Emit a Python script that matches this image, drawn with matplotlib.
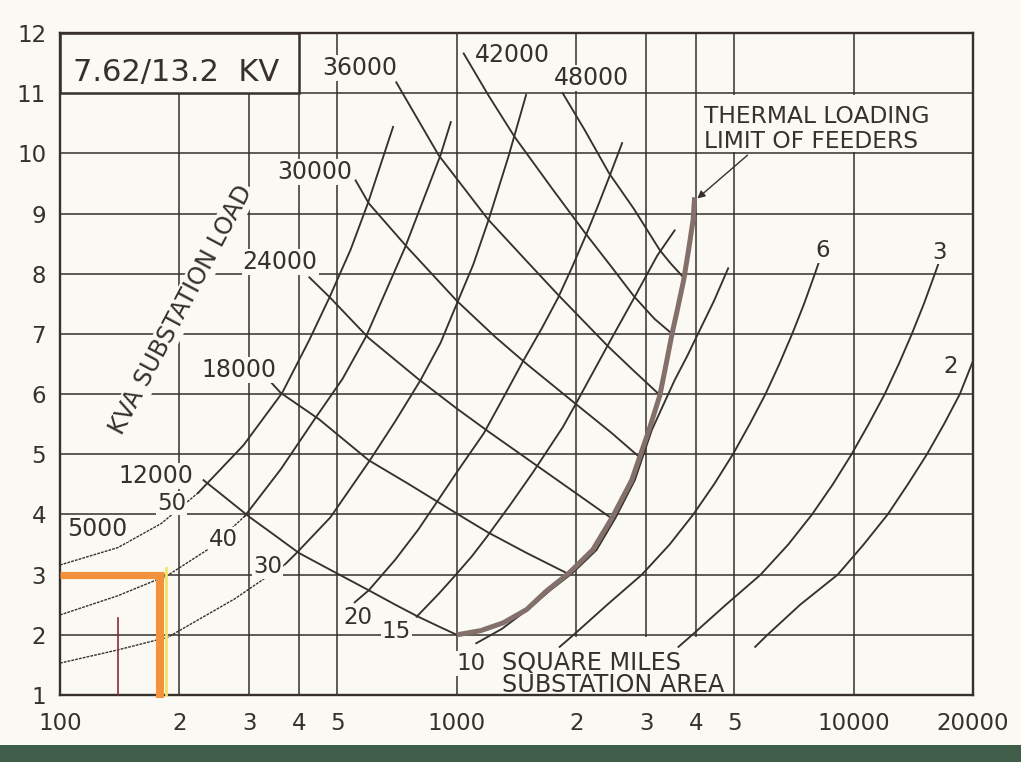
import matplotlib
matplotlib.use('Agg')
import matplotlib.pyplot as plt
from matplotlib.patches import Rectangle
from matplotlib.ticker import NullLocator

# ---------------- data ----------------
x_ticks = [100, 200, 300, 400, 500, 1000, 2000, 3000, 4000, 5000, 10000, 20000]
x_tick_labels = ['100', '2', '3', '4', '5', '1000', '2', '3', '4', '5', '10000', '20000']
y_ticks = [1, 2, 3, 4, 5, 6, 7, 8, 9, 10, 11, 12]

# substation area curves (square miles)
a50_thin_x = [100, 140, 180, 223]
a50_thin_y = [3.16, 3.45, 3.85, 4.36]
a50_x = [223, 290, 363, 425, 478, 540, 597, 691]
a50_y = [4.36, 5.15, 6.02, 6.90, 7.61, 8.40, 9.17, 10.44]

a40_thin_x = [100, 140, 187, 240, 292]
a40_thin_y = [2.33, 2.65, 2.99, 3.45, 3.97]
a40_x = [292, 360, 440, 515, 590, 741, 910, 966]
a40_y = [3.97, 4.75, 5.60, 6.25, 6.95, 8.44, 9.97, 10.52]

a30_thin_x = [100, 140, 187, 276, 369]
a30_thin_y = [1.53, 1.75, 1.96, 2.60, 3.17]
a30_x = [369, 396, 480, 604, 700, 810, 910, 1000, 1100, 1202, 1350, 1495]
a30_y = [3.17, 3.37, 3.95, 4.90, 5.55, 6.23, 6.85, 7.50, 8.15, 8.89, 9.95, 10.97]

a20_x = [553, 600, 700, 800, 900, 1000, 1170, 1300, 1470, 1640, 1800, 1950, 2110, 2260, 2420, 2610]
a20_y = [2.54, 2.74, 3.25, 3.75, 4.25, 4.70, 5.35, 5.90, 6.55, 7.10, 7.60, 8.10, 8.62, 9.10, 9.60, 10.17]

a15_x = [792, 900, 983, 1090, 1188, 1370, 1556, 1850, 2000, 2200, 2420, 2800, 3200, 3540]
a15_y = [2.30, 2.68, 2.96, 3.30, 3.62, 4.18, 4.70, 5.45, 5.85, 6.35, 6.85, 7.60, 8.30, 8.72]

a10_x = [1120, 1300, 1530, 1720, 1960, 2250, 2510, 2810, 3100, 3320, 3540, 3800, 4060, 4450, 4830]
a10_y = [1.86, 2.10, 2.45, 2.74, 3.03, 3.41, 3.94, 4.57, 5.40, 5.83, 6.23, 6.62, 7.01, 7.55, 8.09]

a6_x = [1817, 1970, 2394, 2927, 3438, 3945, 4450, 4965, 5472, 5999, 6501, 7005, 7505, 7990, 8176]
a6_y = [1.80, 2.00, 2.50, 3.00, 3.50, 4.00, 4.50, 5.00, 5.50, 6.00, 6.50, 7.00, 7.50, 8.00, 8.19]

a3_x = [3620, 3922, 4768, 5831, 6844, 7858, 8864, 9885, 10910, 11980, 13000, 14020, 15040, 16030, 16410]
a3_y = [1.80, 2.00, 2.50, 3.00, 3.50, 4.00, 4.50, 5.00, 5.50, 6.00, 6.50, 7.00, 7.50, 8.00, 8.19]

a2_x = [5650, 6067, 7334, 9122, 10600, 12190, 13700, 15310, 16900, 18530, 20000]
a2_y = [1.80, 2.00, 2.50, 3.00, 3.50, 4.00, 4.50, 5.00, 5.50, 6.00, 6.55]

# KVA substation load curves
k12000_x = [230, 260, 300, 350, 400, 480, 600, 700, 800, 900, 1000]
k12000_y = [4.57, 4.29, 3.96, 3.64, 3.36, 3.08, 2.74, 2.50, 2.30, 2.14, 2.00]

k18000_x = [342, 360, 450, 600, 750, 900, 1050, 1200, 1500, 1900]
k18000_y = [6.18, 6.02, 5.58, 4.90, 4.52, 4.20, 3.93, 3.70, 3.36, 3.02]

k24000_x = [425, 480, 600, 800, 1000, 1200, 1600, 2000, 2450]
k24000_y = [7.94, 7.60, 6.93, 6.25, 5.76, 5.38, 4.80, 4.35, 3.94]

k30000_x = [556, 600, 750, 1000, 1250, 1500, 2000, 2450, 2890]
k30000_y = [9.55, 9.17, 8.44, 7.55, 6.95, 6.50, 5.83, 5.36, 4.95]

k36000_x = [704, 900, 1200, 1500, 1800, 2400, 2800, 3230]
k36000_y = [11.18, 9.97, 8.90, 8.21, 7.65, 6.80, 6.38, 6.00]

k42000_x = [1041, 1200, 1400, 1750, 2110, 2450, 2800, 3150, 3490]
k42000_y = [11.66, 10.97, 10.27, 9.39, 8.67, 8.12, 7.62, 7.25, 7.00]

k48000_x = [1849, 2100, 2420, 2800, 3250, 3450, 3700]
k48000_y = [11.00, 10.39, 9.67, 9.07, 8.39, 8.18, 7.96]

# thermal loading limit of feeders
thermal_x = [1000, 1150, 1310, 1500, 1677, 1920, 2200, 2460, 2760, 3050, 3250, 3370, 3490, 3610, 3730, 3840, 3940, 3975]
thermal_y = [2.00, 2.07, 2.20, 2.42, 2.72, 3.03, 3.41, 3.94, 4.57, 5.40, 5.98, 6.50, 7.01, 7.45, 7.89, 8.40, 8.89, 9.27]

# curve labels: (text, x, y)
kva_labels = [('5000', 124, 3.76), ('12000', 174, 4.64), ('18000', 282, 6.40),
              ('24000', 359, 8.19), ('30000', 438, 9.69), ('36000', 570, 11.42),
              ('42000', 1379, 11.63), ('48000', 2180, 11.25)]
area_labels = [('50', 191, 4.19), ('40', 258, 3.59), ('30', 334, 3.14),
               ('20', 563, 2.28), ('15', 704, 2.06), ('10', 1084, 1.53),
               ('6', 8370, 8.38), ('3', 16500, 8.36), ('2', 17600, 6.46)]

# overlay marks (orange / yellow / red)
orange_h_x = [100, 183]
orange_h_y = [3.0, 3.0]
orange_v_x = [179, 179]
orange_v_y = [3.03, 0.95]
yellow_x = [185, 185]
yellow_y = [3.11, 1.0]
red_x = [140, 140]
red_y = [2.28, 1.0]

# ---------------- drawing ----------------
BG = '#faf9f3'
INK = '#37302d'
THERM = '#83706a'
plt.rcParams['font.family'] = ['DejaVu Sans']

fig = plt.figure(figsize=(10.21, 7.62), dpi=100, facecolor=BG)
ax = fig.add_axes([60 / 1021, 1 - 695 / 762, 913 / 1021, 662 / 762])
ax.set_facecolor(BG)
ax.set_xscale('log')
ax.set_xlim(100, 20000)
ax.set_ylim(1, 12)
ax.set_xticks(x_ticks)
ax.set_xticklabels(x_tick_labels)
ax.xaxis.set_minor_locator(NullLocator())
ax.set_yticks(y_ticks)
ax.set_yticklabels([str(v) for v in y_ticks])
ax.tick_params(length=0, labelsize=16.5, colors=INK)
ax.tick_params(axis='x', pad=12)
ax.tick_params(axis='y', pad=10)
ax.grid(True, color=INK, lw=1.1)
ax.set_axisbelow(True)
for s in ax.spines.values():
    s.set_linewidth(1.7)
    s.set_color(INK)
    s.set_zorder(6)

# boxes that hide the grid
ax.add_patch(Rectangle((100, 11), 300, 1, facecolor=BG, edgecolor=INK, lw=1.8, zorder=1))
ax.add_patch(Rectangle((4080, 10.03), 15700, 0.94, facecolor=BG, edgecolor='none', zorder=1))
ax.add_patch(Rectangle((1030, 1.02), 3880, 0.95, facecolor=BG, edgecolor='none', zorder=1))

ax.text(108, 11.35, '7.62/13.2  KV', fontsize=22, color=INK, ha='left', va='center', zorder=7)
ax.text(4200, 10.41, 'THERMAL LOADING\nLIMIT OF FEEDERS', fontsize=16.8, color=INK,
        ha='left', va='center', linespacing=1.1, zorder=7)
ax.text(1300, 1.53, 'SQUARE MILES', fontsize=17.2, color=INK, ha='left', va='center', zorder=7)
ax.text(1300, 1.17, 'SUBSTATION AREA', fontsize=17.2, color=INK, ha='left', va='center', zorder=7)

# curves
thin_kw = dict(color=INK, lw=1.0, ls=(0, (2.0, 0.8)), zorder=3)
solid_kw = dict(color=INK, lw=1.35, zorder=3, solid_joinstyle='round')
for tx, ty in [(a50_thin_x, a50_thin_y), (a40_thin_x, a40_thin_y), (a30_thin_x, a30_thin_y)]:
    ax.plot(tx, ty, **thin_kw)
for cx, cy in [(a50_x, a50_y), (a40_x, a40_y), (a30_x, a30_y), (a20_x, a20_y),
               (a15_x, a15_y), (a10_x, a10_y), (a6_x, a6_y), (a3_x, a3_y), (a2_x, a2_y),
               (k12000_x, k12000_y), (k18000_x, k18000_y), (k24000_x, k24000_y),
               (k30000_x, k30000_y), (k36000_x, k36000_y), (k42000_x, k42000_y),
               (k48000_x, k48000_y)]:
    ax.plot(cx, cy, **solid_kw)
ax.plot(thermal_x, thermal_y, color=THERM, lw=3.6, zorder=4, solid_capstyle='butt',
        solid_joinstyle='round')

ax.annotate('', xy=(3990, 9.22), xytext=(5470, 10.0),
            arrowprops=dict(arrowstyle='-|>', color=INK, lw=1.0, mutation_scale=11),
            zorder=7)

lab_box = dict(facecolor=BG, edgecolor='none', pad=0.6)
for t, x, y in kva_labels:
    ax.text(x, y, t, fontsize=17, color=INK, ha='center', va='center', bbox=lab_box, zorder=5)
for t, x, y in area_labels:
    ax.text(x, y, t, fontsize=16.5, color=INK, ha='center', va='center', bbox=lab_box, zorder=5)

ax.text(202, 7.40, 'KVA SUBSTATION LOAD', fontsize=17.2, color=INK, rotation=62,
        rotation_mode='anchor', ha='center', va='center',
        bbox=dict(facecolor=BG, edgecolor='none', pad=1.0), zorder=5)

# overlay marks
ax.plot(red_x, red_y, color='#8e2c33', lw=1.2, zorder=8, clip_on=False)
ax.plot(yellow_x, yellow_y, color='#f3e463', lw=2.0, zorder=8, clip_on=False)
ax.plot(orange_h_x, orange_h_y, color='#f2923c', lw=5.2, zorder=9, solid_capstyle='butt')
ax.plot(orange_v_x, orange_v_y, color='#f2923c', lw=5.8, zorder=9, solid_capstyle='butt',
        clip_on=False)

# dark strip at the very bottom of the screenshot
fig.patches.append(Rectangle((0, 0), 1, 17 / 762, transform=fig.transFigure,
                             facecolor='#3f5d48', edgecolor='none', zorder=0))

fig.savefig('out.png', dpi=100, facecolor=BG)
